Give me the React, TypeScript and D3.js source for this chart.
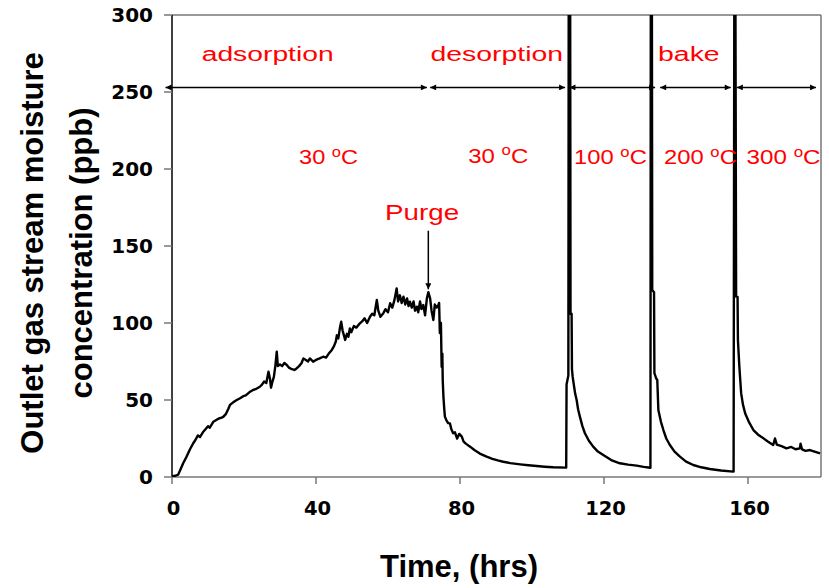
import React from 'react';
import * as d3 from 'd3';

const W = 829;
const H = 588;

// Axis ticks
const xTicks = [0, 40, 80, 120, 160];
const yTicks = [0, 50, 100, 150, 200, 250, 300];

// Series (time in hrs, moisture in ppb)
const adsorption: [number, number][] = [
  [0, 0.5], [1, 0.8], [1.7, 1.5], [2.2, 4], [3.1, 8.9], [4, 13], [5, 18], [5.9, 21.9], [6.5, 24], [7.2, 27],
  [7.8, 26], [8.7, 29.4], [9.3, 31], [10, 33], [10.5, 32], [11.5, 35.9], [12.3, 37], [13, 38], [13.8, 38.5],
  [14.3, 39.2], [15, 41], [15.6, 44], [16.1, 46.8], [17, 48.5], [18, 50], [18.9, 51.1], [19.8, 52.5], [20.5, 53],
  [21.7, 55.4], [22.5, 56.5], [23.2, 57], [24.4, 58.6], [25, 60], [25.6, 62], [26.2, 61], [26.8, 68.4], [27.2, 64],
  [27.5, 58], [27.9, 62], [28.3, 65], [28.7, 72], [29.1, 81.4], [29.4, 72], [30, 73], [30.6, 72], [31.2, 74],
  [31.9, 72.7], [32.5, 71], [33.3, 70], [34, 69.5], [34.6, 70.5], [35.3, 72], [36, 74], [36.5, 77], [37.2, 76],
  [37.8, 75], [38.3, 77], [39.2, 74.9], [40, 76], [41, 77], [42, 78.1], [42.8, 77.5], [43.5, 80], [44.4, 82.5],
  [45, 85], [45.5, 88], [45.8, 92], [46.2, 90], [46.7, 97.6], [47, 100.8], [47.4, 95], [48.1, 89], [48.6, 93],
  [49, 91], [49.4, 96.5], [49.8, 94], [50.5, 98], [51.2, 97], [52.2, 99.8], [52.8, 101], [53.5, 103], [54.2, 100],
  [55, 104.1], [55.6, 106], [56.2, 105], [56.9, 114.9], [57.3, 108], [57.9, 104], [58.7, 106.3], [59.3, 109],
  [60, 107], [60.6, 112.8], [61.2, 110], [61.8, 115], [62.4, 122.5], [62.8, 114], [63.3, 118], [63.8, 113],
  [64.3, 117.1], [64.8, 112], [65.3, 116], [65.7, 111], [66.1, 113.8], [66.6, 110], [67.1, 114], [67.5, 108],
  [68, 110.6], [68.4, 107], [68.9, 114], [69.3, 109], [69.8, 111.7], [70.3, 105], [70.8, 116], [71.2, 120],
  [71.7, 116], [72.1, 108], [72.6, 102], [73, 112], [73.5, 110], [74, 111.7], [74.2, 113],
];

const desorption30: [number, number][] = [
  [74.4, 93.5], [74.7, 100], [74.9, 71.6], [75.1, 80], [75.2, 63], [75.4, 52], [75.6, 45], [75.8, 39.2],
  [76.2, 37], [76.7, 35], [77.2, 34.8], [77.6, 31], [78.1, 28.4], [78.6, 29], [79.2, 25], [79.8, 28],
  [80.5, 26.2], [81, 23], [81.7, 21.5], [82.8, 19.7], [84, 17.5], [85.5, 15.2], [87.4, 13.2], [89, 11.8],
  [90.5, 10.8], [92, 9.9], [94, 9], [96.7, 8.2], [99, 7.6], [101.3, 7.1], [103.5, 6.7], [105.9, 6.3], [109.4, 6.1],
];

const bake100: [number, number][] = [
  [109.5, 6.1], [109.6, 60], [110.1, 66], [110.2, 320], [110.6, 320], [110.7, 106], [111, 106], [111.1, 70],
  [111.3, 65], [111.7, 58.6], [112, 54], [112.4, 50], [112.8, 44], [113.3, 39.2], [114, 33], [114.7, 28.4],
  [115.8, 23.5], [117, 19.7], [118.3, 16.5], [119.8, 14.3], [122, 11], [124.4, 8.9], [126.7, 8], [129.1, 7.4],
  [131, 6.6], [132.8, 6],
];

const bake200: [number, number][] = [
  [132.9, 6], [133.0, 320], [133.3, 320], [133.4, 121.4], [133.9, 120], [134.0, 67.5], [134.5, 64], [134.8, 63],
  [135.1, 43.5], [135.8, 36], [136.5, 30.5], [137.3, 25], [138.3, 20.8], [139.6, 16.5], [141.1, 13.2],
  [142.8, 10], [144.8, 7.8], [147, 6.3], [149.4, 5.2], [152.5, 4.2], [155.9, 3.5],
];

const bake300: [number, number][] = [
  [156.0, 3.5], [156.2, 320], [156.5, 320], [156.7, 117.1], [157.1, 117], [157.2, 89], [157.6, 71.6],
  [158.1, 54.3], [158.6, 47], [159.2, 41.4], [160.2, 36], [161.5, 30.5], [162.8, 27.5], [164.3, 25.1],
  [165.5, 23], [167, 20.8], [167.5, 25], [168, 21], [169.3, 20], [170.7, 18.6], [172, 19.5], [173.2, 18],
  [174.4, 18.6], [174.6, 21.6], [175, 18], [176, 17], [177.2, 17.5], [178.5, 16.5], [180, 15.4],
];

// Phase annotations
const phaseNames = ['adsorption', 'desorption', 'bake'];
const tempValues = ['30', '30', '100', '200', '300'];
const phaseSpans: [number, number][] = [[-1.8, 70.8], [71.7, 109.2], [110.4, 134.2], [135.6, 155.2], [156.9, 178.9]];
const purgeLabel = 'Purge';

export default function App() {
  const x = d3.scaleLinear().domain([0, 180]).range([172, 820]);
  const y = d3.scaleLinear().domain([0, 300]).range([477, 15]);
  const line = d3.line<[number, number]>().x(d => x(d[0])).y(d => y(d[1]));
  const all = [...adsorption, ...desorption30, ...bake100, ...bake200, ...bake300];

  const x0 = x(0), x1 = x(180), y0 = y(0), y1 = y(300);
  const frame = '#777';

  // label layouts in data coordinates
  const phaseLayout = [
    { t: 8.25, v: 270.1, w: 132 },
    { t: 71.8, v: 270.1, w: 132.6 },
    { t: 135, v: 270.1, w: 61.7 },
  ];
  const tempLayout = [
    { t: 35.3, v: 203.2, w: 59 },
    { t: 82.3, v: 203.9, w: 60 },
    { t: 111.7, v: 203.2, w: 72.7 },
    { t: 136.7, v: 203.2, w: 72.7 },
    { t: 159.6, v: 203.2, w: 74 },
  ];
  const arrowLevel = 253;
  const purge = { t: 59.2, v: 166.9, w: 74, at: 71.2, from: 159.9, to: 121.9 };

  const tickFont = '"DejaVu Sans", sans-serif';
  const textFont = '"Liberation Sans", Arial, sans-serif';

  return (
    <svg width={W} height={H} style={{ position: 'absolute', left: 0, top: 0, background: '#fff' }}>
      <defs>
        <clipPath id="plot">
          <rect x={x0} y={y1} width={x1 - x0 + 1} height={y0 - y1} />
        </clipPath>
        <marker id="ah" viewBox="0 0 10 10" refX="10" refY="5" markerWidth="7" markerHeight="6" orient="auto-start-reverse" markerUnits="userSpaceOnUse">
          <path d="M0,0 L10,5 L0,10 Z" fill="#000" />
        </marker>
      </defs>

      {/* frame */}
      <line x1={x0} x2={x1 + 1} y1={y1} y2={y1} stroke={frame} strokeWidth={1.5} />
      <line x1={x1 + 1} x2={x1 + 1} y1={y1} y2={y0} stroke={frame} strokeWidth={1.5} />
      <line x1={x0} x2={x1 + 1} y1={y0} y2={y0} stroke={frame} strokeWidth={1.5} />
      <line x1={x0} x2={x0} y1={y1} y2={y0} stroke="#000" strokeWidth={1.5} />

      {/* y ticks */}
      {yTicks.map(v => (
        <g key={'y' + v}>
          <line x1={x0 - 8} x2={x0} y1={y(v)} y2={y(v)} stroke={frame} strokeWidth={1.5} />
          <text x={153} y={y(v)} dy="0.36em" textAnchor="end" fontFamily={tickFont} fontWeight="bold" fontSize={20} fill="#000">{v}</text>
        </g>
      ))}
      {/* x ticks */}
      {xTicks.map(t => (
        <g key={'x' + t}>
          <line x1={x(t)} x2={x(t)} y1={y0} y2={y0 + 7} stroke={frame} strokeWidth={1.5} />
          <text x={x(t) + 1.5} y={515} textAnchor="middle" fontFamily={tickFont} fontWeight="bold" fontSize={19.5} fill="#000">{t}</text>
        </g>
      ))}

      {/* axis titles */}
      <text x={459} y={577} textAnchor="middle" fontFamily={textFont} fontWeight="bold" fontSize={31} fill="#000">Time, (hrs)</text>
      <g transform={`translate(0,253) rotate(-90)`}>
        <text x={0} y={42.5} textAnchor="middle" fontFamily={textFont} fontWeight="bold" fontSize={31} fill="#000">Outlet gas stream moisture</text>
        <text x={0} y={91.5} textAnchor="middle" fontFamily={textFont} fontWeight="bold" fontSize={31} fill="#000">concentration (ppb)</text>
      </g>

      {/* data */}
      <path d={line(all) || ''} fill="none" stroke="#000" strokeWidth={2.4} strokeLinejoin="round" clipPath="url(#plot)" />

      {/* phase arrows */}
      {phaseSpans.map(([a, b], i) => (
        <line key={'pa' + i} x1={x(a)} x2={x(b)} y1={y(arrowLevel)} y2={y(arrowLevel)} stroke="#000" strokeWidth={1.5}
          markerStart="url(#ah)" markerEnd="url(#ah)" />
      ))}

      {/* phase labels */}
      {phaseNames.map((n, i) => (
        <text key={'pn' + i} x={x(phaseLayout[i].t)} y={y(phaseLayout[i].v)} fontFamily={textFont} fontSize={20}
          fill="#ff0000" textLength={phaseLayout[i].w} lengthAdjust="spacingAndGlyphs">{n}</text>
      ))}
      {tempValues.map((v, i) => (
        <text key={'tv' + i} x={x(tempLayout[i].t)} y={y(tempLayout[i].v)} fontFamily={textFont} fontSize={20}
          fill="#ff0000" textLength={tempLayout[i].w} lengthAdjust="spacingAndGlyphs">
          {v + ' '}<tspan dy={-7.5} fontSize={14}>o</tspan><tspan dy={7.5}>C</tspan>
        </text>
      ))}

      {/* purge */}
      <text x={x(purge.t)} y={y(purge.v)} fontFamily={textFont} fontSize={22} fill="#ff0000"
        textLength={purge.w} lengthAdjust="spacingAndGlyphs">{purgeLabel}</text>
      <line x1={x(purge.at)} x2={x(purge.at)} y1={y(purge.from)} y2={y(purge.to)} stroke="#000" strokeWidth={1.5} markerEnd="url(#ah)" />
    </svg>
  );
}
